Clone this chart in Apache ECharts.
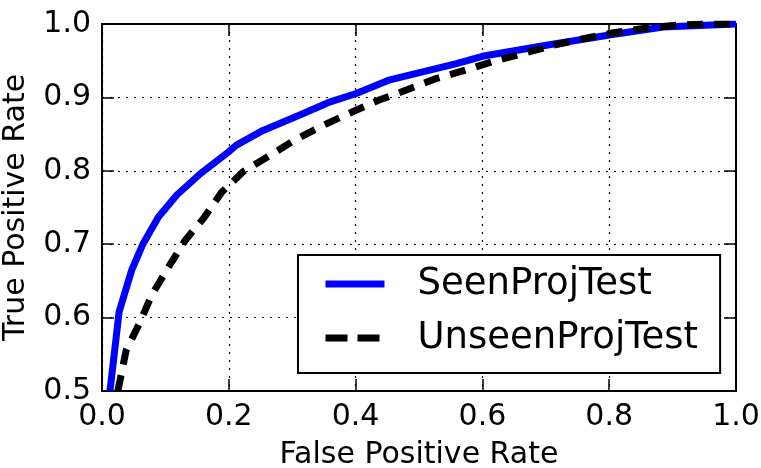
<!DOCTYPE html>
<html>
<head>
<meta charset="utf-8">
<script src="https://cdn.jsdelivr.net/npm/echarts@6/dist/echarts.min.js"></script>
<style>
  html, body { margin: 0; padding: 0; background: #fff; }
  #chart { width: 761px; height: 468px; }
</style>
</head>
<body>
<div id="chart"></div>
<script>
// ROC 曲线数据 (fpr, tpr)
let seenFpr = [0.0126, 0.027, 0.047, 0.065, 0.089, 0.118, 0.155, 0.2, 0.212, 0.254, 0.312, 0.36, 0.4, 0.454, 0.559, 0.6, 0.701, 0.8, 0.885, 1.0]
let seenTpr = [0.5, 0.608, 0.665, 0.701, 0.737, 0.767, 0.796, 0.826, 0.835, 0.855, 0.876, 0.894, 0.905, 0.924, 0.946, 0.956, 0.971, 0.985, 0.996, 1.0]
let unseenFpr = [0.025, 0.038, 0.06, 0.078, 0.105, 0.131, 0.16, 0.189, 0.223, 0.265, 0.304, 0.349, 0.389, 0.436, 0.48, 0.528, 0.573, 0.617, 0.665, 0.712, 0.759, 0.807, 0.854, 0.901, 0.951, 1.0]
let unseenTpr = [0.5, 0.555, 0.594, 0.63, 0.669, 0.705, 0.735, 0.771, 0.799, 0.821, 0.842, 0.862, 0.878, 0.896, 0.91, 0.926, 0.937, 0.949, 0.96, 0.971, 0.98, 0.988, 0.994, 0.998, 1.0, 1.0]
let xTicks = [0.0, 0.2, 0.4, 0.6, 0.8, 1.0]
let yTicks = [0.5, 0.6, 0.7, 0.8, 0.9, 1.0]
let seriesNames = ['SeenProjTest', 'UnseenProjTest']

let zip = (xs, ys) => xs.map((x, i) => [x, ys[i]])
let font = 'DejaVu Sans'

let tickStyle = { show: true, inside: true, length: 12, lineStyle: { color: '#000', width: 1.5 } }
let gridLine = { show: true, lineStyle: { color: '#000', width: 1.2, type: [2, 6] } }

function xAxisOpt(pos, labels){
  return {
    type: 'value', position: pos, min: xTicks[0], max: xTicks[xTicks.length - 1], interval: 0.2,
    axisLine: { show: true, onZero: false, lineStyle: { color: '#000', width: 2 } },
    axisTick: tickStyle,
    splitLine: labels ? gridLine : { show: false },
    axisLabel: {
      show: labels, margin: 11, color: '#000', fontFamily: font, fontSize: 30,
      formatter: v => v.toFixed(1)
    },
    name: labels ? 'False Positive Rate' : '', nameLocation: 'middle', nameGap: 49,
    nameTextStyle: { color: '#000', fontFamily: font, fontSize: 30 }
  }
}
function yAxisOpt(pos, labels){
  return {
    type: 'value', position: pos, min: yTicks[0], max: yTicks[yTicks.length - 1], interval: 0.1,
    axisLine: { show: true, onZero: false, lineStyle: { color: '#000', width: 2 } },
    axisTick: tickStyle,
    splitLine: labels ? gridLine : { show: false },
    axisLabel: {
      show: labels, margin: 11, color: '#000', fontFamily: font, fontSize: 30,
      formatter: v => v.toFixed(1)
    },
    name: labels ? 'True Positive Rate' : '', nameLocation: 'middle', nameGap: 71,
    nameTextStyle: { color: '#000', fontFamily: font, fontSize: 30 }
  }
}

let option = {
  animation: false,
  backgroundColor: '#fff',
  grid: { left: 102, right: 25, top: 24, bottom: 77, outerBoundsMode: 'none', containLabel: false },
  legend: {
    orient: 'vertical', left: 298, top: 255,
    data: [
      { name: seriesNames[0], lineStyle: { width: 7 } },
      { name: seriesNames[1], lineStyle: { width: 7, type: [22, 10] } }
    ],
    borderColor: '#000', borderWidth: 2, borderRadius: 0,
    backgroundColor: '#fff',
    padding: [9, 22, 15, 24],
    itemWidth: 59, itemHeight: 14, itemGap: 14,
    itemStyle: { opacity: 0 },
    lineStyle: { width: 7 },
    textStyle: { color: '#000', fontFamily: font, fontSize: 37, lineHeight: 40, padding: [0, 0, 0, 28] }
  },
  xAxis: [xAxisOpt('bottom', true), xAxisOpt('top', false)],
  yAxis: [yAxisOpt('left', true), yAxisOpt('right', false)],
  series: [
    {
      name: seriesNames[0], type: 'line', data: zip(seenFpr, seenTpr),
      showSymbol: false, symbol: 'none', clip: true,
      lineStyle: { color: '#0000ff', width: 7 }, itemStyle: { color: '#0000ff' }
    },
    {
      name: seriesNames[1], type: 'line', data: zip(unseenFpr, unseenTpr),
      showSymbol: false, symbol: 'none', clip: true,
      lineStyle: { color: '#000', width: 7, type: [16, 11], cap: 'butt' }, itemStyle: { color: '#000' }
    }
  ]
}

let myChart = echarts.init(document.getElementById('chart'))
myChart.setOption(option)
</script>
</body>
</html>
